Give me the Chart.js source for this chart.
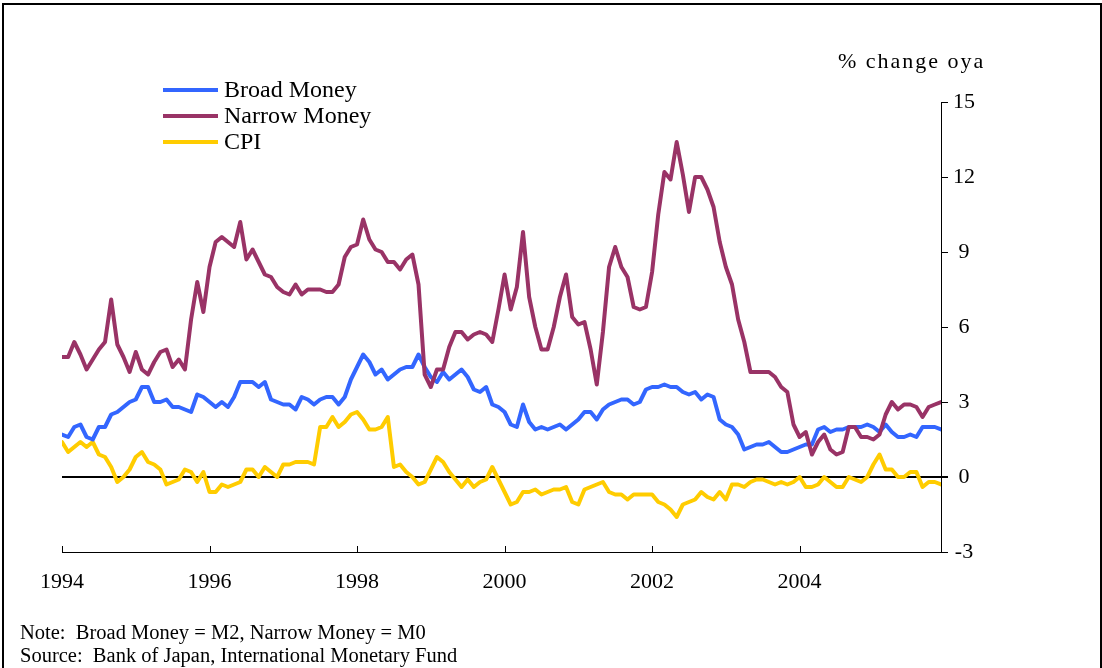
<!DOCTYPE html>
<html>
<head>
<meta charset="utf-8">
<script src="https://cdn.jsdelivr.net/npm/chart.js@4.4.1/dist/chart.umd.min.js"></script>
<style>
  body { margin: 0; background: #fff; font-family: "Liberation Serif", "Times New Roman", serif; }
  #wrap { position: relative; width: 1102px; height: 668px; overflow: hidden; }
  #frame { position: absolute; left: 2px; top: 3px; width: 1096px; height: 700px; border: 2px solid #000; }
  canvas { position: absolute; left: 0; top: 0; }
  .txt { position: absolute; color: #000; white-space: pre; }
</style>
</head>
<body>
<div id="wrap">
  <div id="frame"></div>
  <canvas id="chart" width="1102" height="668"></canvas>
  <div class="txt" style="left:838px; top:48px; font-size:22px; letter-spacing:2px;">% change oya</div>
  <div class="txt" style="left:20px; top:621px; font-size:20.5px;">Note:  Broad Money = M2, Narrow Money = M0</div>
  <div class="txt" style="left:20px; top:644px; font-size:20.5px;">Source:  Bank of Japan, International Monetary Fund</div>
</div>
<script>
// monthly data, Jan 1994 - Dec 2005, % change oya
var startYear = 1994;
var yearTicks = ['1994', '1996', '1998', '2000', '2002', '2004'];

var broadMoney = [
  1.7, 1.6, 2.0, 2.1, 1.6, 1.5, 2.0, 2.0, 2.5, 2.6, 2.8, 3.0,
  3.1, 3.6, 3.6, 3.0, 3.0, 3.1, 2.8, 2.8, 2.7, 2.6, 3.3, 3.2,
  3.0, 2.8, 3.0, 2.8, 3.2, 3.8, 3.8, 3.8, 3.6, 3.8, 3.1, 3.0,
  2.9, 2.9, 2.7, 3.2, 3.1, 2.9, 3.1, 3.2, 3.2, 2.9, 3.2, 3.9,
  4.4, 4.9, 4.6, 4.1, 4.3, 3.9, 4.1, 4.3, 4.4, 4.4, 4.9, 4.4,
  4.0, 3.8, 4.2, 3.9, 4.1, 4.3, 4.0, 3.5, 3.4, 3.6, 2.9, 2.8,
  2.6, 2.1, 2.0, 2.9, 2.2, 1.9, 2.0, 1.9, 2.0, 2.1, 1.9, 2.1,
  2.3, 2.6, 2.6, 2.3, 2.7, 2.9, 3.0, 3.1, 3.1, 2.9, 3.0, 3.5,
  3.6, 3.6, 3.7, 3.6, 3.6, 3.4, 3.3, 3.4, 3.1, 3.3, 3.2, 2.3,
  2.1, 2.0, 1.7, 1.1, 1.2, 1.3, 1.3, 1.4, 1.2, 1.0, 1.0, 1.1,
  1.2, 1.3, 1.3, 1.9, 2.0, 1.8, 1.9, 1.9, 2.0, 2.0, 2.0, 2.1,
  2.0, 1.8, 2.1, 1.8, 1.6, 1.6, 1.7, 1.6, 2.0, 2.0, 2.0, 1.9
];

var narrowMoney = [
  4.8, 4.8, 5.4, 4.9, 4.3, 4.7, 5.1, 5.4, 7.1, 5.3, 4.8, 4.2,
  5.0, 4.3, 4.1, 4.6, 5.0, 5.1, 4.4, 4.7, 4.3, 6.3, 7.8, 6.6,
  8.4, 9.4, 9.6, 9.4, 9.2, 10.2, 8.7, 9.1, 8.6, 8.1, 8.0, 7.6,
  7.4, 7.3, 7.7, 7.3, 7.5, 7.5, 7.5, 7.4, 7.4, 7.7, 8.8, 9.2,
  9.3, 10.3, 9.5, 9.1, 9.0, 8.6, 8.6, 8.3, 8.7, 8.9, 7.7, 4.1,
  3.6, 4.3, 4.3, 5.2, 5.8, 5.8, 5.5, 5.7, 5.8, 5.7, 5.4, 6.7,
  8.1, 6.7, 7.6, 9.8, 7.2, 6.0, 5.1, 5.1, 6.0, 7.2, 8.1, 6.4,
  6.1, 6.2, 5.1, 3.7, 5.8, 8.4, 9.2, 8.4, 8.0, 6.8, 6.7, 6.8,
  8.2, 10.5, 12.2, 11.9, 13.4, 12.1, 10.6, 12.0, 12.0, 11.5, 10.8, 9.4,
  8.4, 7.7, 6.3, 5.4, 4.2, 4.2, 4.2, 4.2, 4.0, 3.6, 3.4, 2.1,
  1.6, 1.8, 0.9, 1.4, 1.7, 1.1, 0.9, 1.0, 2.0, 2.0, 1.6, 1.6,
  1.5, 1.7, 2.5, 3.0, 2.7, 2.9, 2.9, 2.8, 2.4, 2.8, 2.9, 3.0
];

var cpi = [
  1.4, 1.0, 1.2, 1.4, 1.2, 1.4, 0.9, 0.8, 0.4, -0.2, 0.0, 0.3,
  0.8, 1.0, 0.6, 0.5, 0.3, -0.3, -0.2, -0.1, 0.3, 0.2, -0.2, 0.2,
  -0.6, -0.6, -0.3, -0.4, -0.3, -0.2, 0.3, 0.3, 0.0, 0.4, 0.2, 0.0,
  0.5, 0.5, 0.6, 0.6, 0.6, 0.5, 2.0, 2.0, 2.4, 2.0, 2.2, 2.5,
  2.6, 2.3, 1.9, 1.9, 2.0, 2.4, 0.4, 0.5, 0.2, 0.0, -0.3, -0.2,
  0.3, 0.8, 0.6, 0.2, -0.1, -0.4, -0.1, -0.4, -0.2, -0.1, 0.4, -0.1,
  -0.6, -1.1, -1.0, -0.6, -0.6, -0.5, -0.7, -0.6, -0.5, -0.5, -0.4, -1.0,
  -1.1, -0.5, -0.4, -0.3, -0.2, -0.6, -0.7, -0.7, -0.9, -0.7, -0.7, -0.7,
  -0.7, -1.0, -1.1, -1.3, -1.6, -1.1, -1.0, -0.9, -0.6, -0.8, -0.9, -0.6,
  -0.9, -0.3, -0.3, -0.4, -0.2, -0.1, -0.1, -0.2, -0.3, -0.2, -0.3, -0.2,
  0.0, -0.4, -0.4, -0.3, 0.0, -0.2, -0.4, -0.4, 0.0, -0.1, -0.2, 0.0,
  0.5, 0.9, 0.3, 0.3, 0.0, 0.0, 0.2, 0.2, -0.4, -0.2, -0.2, -0.3
];

var BLUE = '#3366FF', PLUM = '#993366', GOLD = '#FFCC00';
var SERIF = '"Liberation Serif", "Times New Roman", serif';

function toPoints(arr) {
  return arr.map(function (v, i) { return { x: i, y: v }; });
}

// small up-pointing ticks on the date axis, like the excel original
var xTickMarks = {
  id: 'xTickMarks',
  afterDraw: function (chart) {
    var ctx = chart.ctx, xs = chart.scales.x, b = chart.chartArea.bottom;
    ctx.save();
    ctx.strokeStyle = '#000';
    ctx.lineWidth = 1;
    yearTicks.forEach(function (t, k) {
      var px = Math.round(xs.getPixelForValue(k * 24)) + 0.5;
      ctx.beginPath();
      ctx.moveTo(px, b);
      ctx.lineTo(px, b - 6);
      ctx.stroke();
    });
    ctx.restore();
  }
};

// legend in the top-left of the plot
var lineLegend = {
  id: 'lineLegend',
  afterDraw: function (chart) {
    var ctx = chart.ctx;
    ctx.save();
    ctx.font = '24px ' + SERIF;
    ctx.textBaseline = 'middle';
    ctx.fillStyle = '#000';
    chart.data.datasets.forEach(function (ds, k) {
      var y = 90 + k * 26;
      ctx.strokeStyle = ds.borderColor;
      ctx.lineWidth = 4;
      ctx.beginPath();
      ctx.moveTo(163, y);
      ctx.lineTo(218, y);
      ctx.stroke();
      ctx.fillText(ds.label, 224, y + 1);
    });
    ctx.restore();
  }
};

new Chart(document.getElementById('chart'), {
  type: 'line',
  data: {
    datasets: [
      { label: 'Broad Money', data: toPoints(broadMoney), borderColor: BLUE, order: 1 },
      { label: 'Narrow Money', data: toPoints(narrowMoney), borderColor: PLUM, order: 0 },
      { label: 'CPI', data: toPoints(cpi), borderColor: GOLD, order: 2 }
    ]
  },
  options: {
    responsive: false,
    animation: false,
    devicePixelRatio: 1,
    layout: { padding: { left: 62, right: 116, top: 102, bottom: 66 } },
    elements: {
      line: { borderWidth: 4, tension: 0, borderJoinStyle: 'round', borderCapStyle: 'round' },
      point: { radius: 0 }
    },
    plugins: {
      legend: { display: false },
      tooltip: { enabled: false }
    },
    scales: {
      x: {
        type: 'linear',
        min: 0,
        max: 143,
        afterFit: function (s) { s.height = 50; },
        afterBuildTicks: function (s) {
          s.ticks = yearTicks.map(function (t, k) { return { value: k * 24 }; });
        },
        grid: { display: false, drawTicks: false },
        border: { display: true, color: '#000', width: 1 },
        ticks: {
          padding: 17,
          maxRotation: 0,
          autoSkip: false,
          color: '#000',
          font: { family: SERIF, size: 22 },
          callback: function (v) { return String(startYear + Math.round(v / 12)); }
        }
      },
      y: {
        position: 'right',
        min: -3,
        max: 15,
        afterFit: function (s) { s.width = 45; },
        grid: {
          drawOnChartArea: true,
          color: function (c) { return c.tick && c.tick.value === 0 ? '#000' : 'rgba(0,0,0,0)'; },
          lineWidth: function (c) { return c.tick && c.tick.value === 0 ? 2 : 1; },
          tickColor: '#000',
          tickLength: 7
        },
        border: { display: true, color: '#000', width: 1 },
        ticks: {
          stepSize: 3,
          padding: 5,
          crossAlign: 'center',
          color: '#000',
          font: { family: SERIF, size: 22 }
        }
      }
    }
  },
  plugins: [xTickMarks, lineLegend]
});
</script>
</body>
</html>
